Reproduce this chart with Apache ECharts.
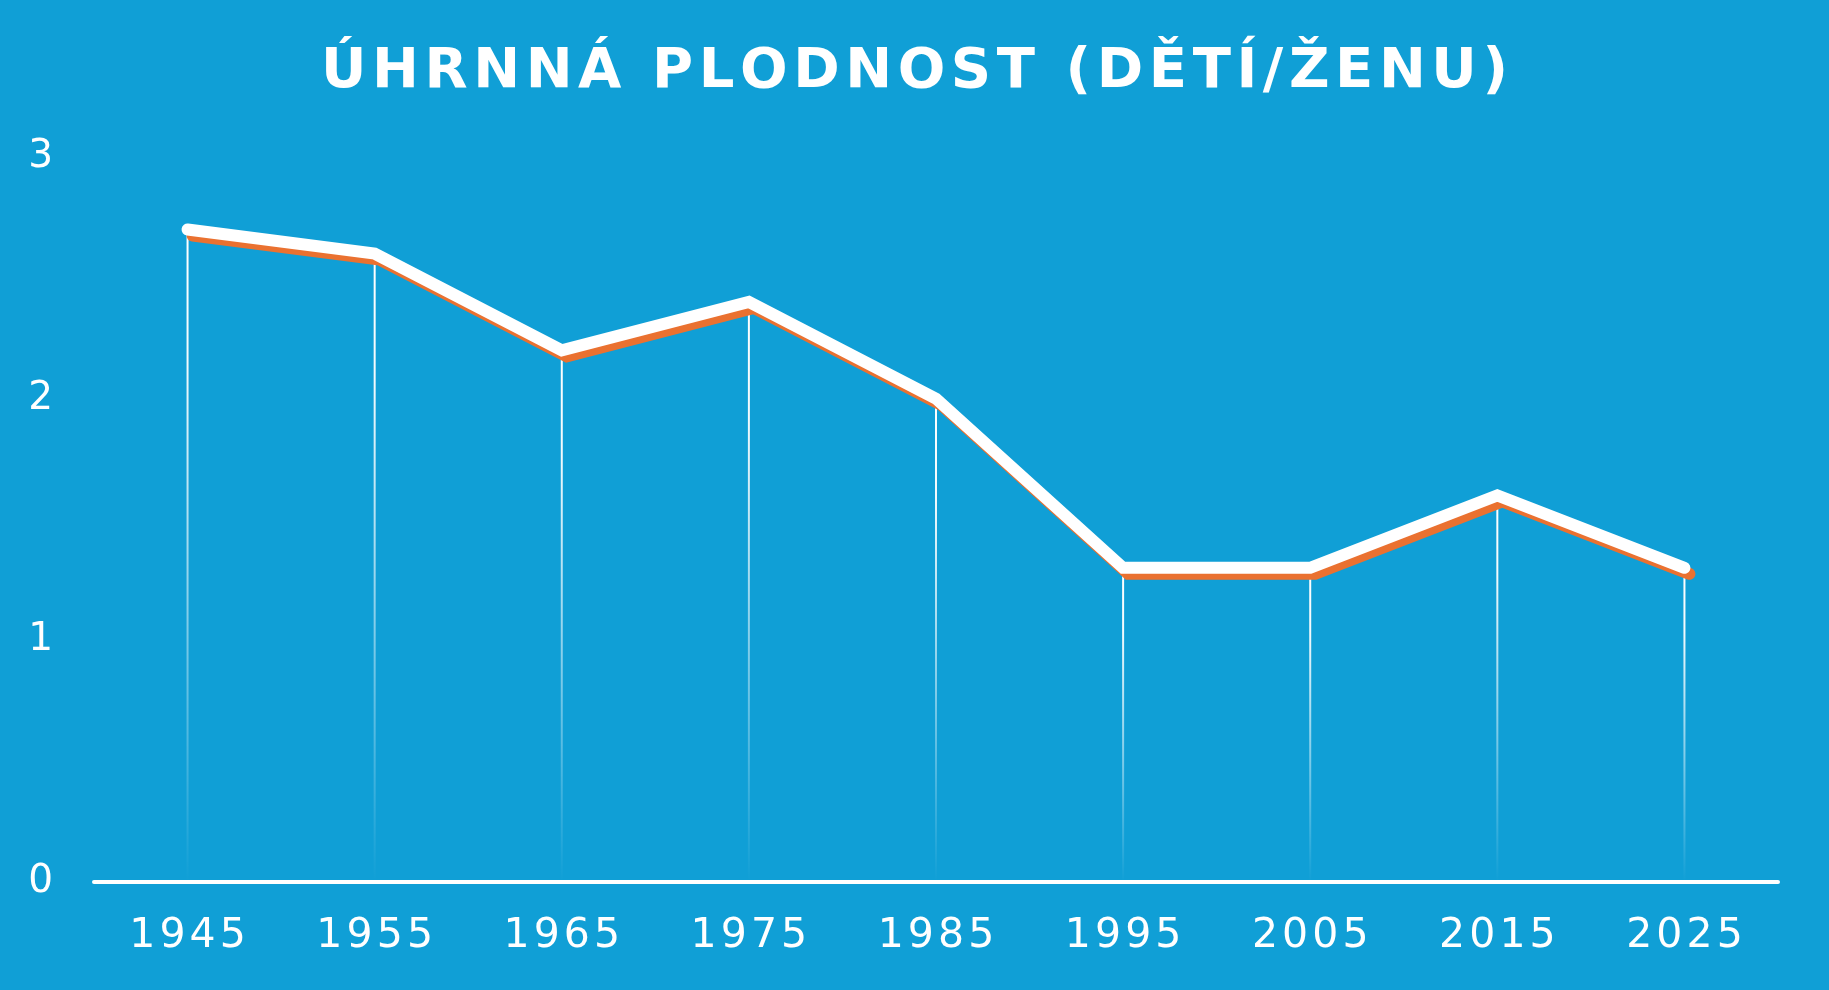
<!DOCTYPE html>
<html>
<head>
<meta charset="utf-8">
<title>Úhrnná plodnost</title>
<script src="https://cdn.jsdelivr.net/npm/echarts@6/dist/echarts.min.js"></script>
<style>
  html, body { margin: 0; padding: 0; background: #109fd6; }
  #chart { width: 1829px; height: 990px; }
</style>
</head>
<body>
<div id="chart"></div>
<script>
const titleText = 'ÚHRNNÁ PLODNOST (DĚTÍ/ŽENU)';
const years = ['1945', '1955', '1965', '1975', '1985', '1995', '2005', '2015', '2025'];
const fertility = [2.70, 2.60, 2.20, 2.40, 2.00, 1.30, 1.30, 1.60, 1.30];
const yTicks = [0, 1, 2, 3];

// no letterSpacing in canvas text here, so pad with hair spaces
const spaced = s => s.split('').join('\u200A');

const chart = echarts.init(document.getElementById('chart'));

chart.setOption({
    backgroundColor: '#109fd6',
    animation: false,
    title: {
        text: spaced(titleText),
        left: 'center',
        top: 39,
        textStyle: {
            color: '#ffffff',
            fontFamily: 'DejaVu Sans',
            fontWeight: 'bold',
            fontSize: 56
        }
    },
    grid: { left: 94, right: 51, top: 157, bottom: 108, containLabel: false },
    xAxis: {
        type: 'category',
        data: years,
        boundaryGap: true,
        axisLine: { show: true, lineStyle: { color: '#ffffff', width: 4 } },
        axisTick: { show: false },
        splitLine: { show: false },
        axisLabel: {
            color: '#ffffff',
            fontFamily: 'DejaVu Sans',
            fontSize: 41,
            margin: 34,
            formatter: v => spaced(v)
        }
    },
    yAxis: {
        type: 'value',
        min: yTicks[0],
        max: yTicks[yTicks.length - 1],
        interval: 1,
        axisLine: { show: false },
        axisTick: { show: false },
        splitLine: { show: false },
        axisLabel: {
            color: '#ffffff',
            fontFamily: 'DejaVu Sans',
            fontSize: 39,
            margin: 41
        }
    },
    series: [
        {
            // drop lines from each point down to the axis
            type: 'bar',
            data: fertility,
            barWidth: 2,
            z: 1,
            silent: true,
            itemStyle: {
                color: new echarts.graphic.LinearGradient(0, 0, 0, 1, [
                    { offset: 0, color: 'rgba(255,255,255,1)' },
                    { offset: 0.2, color: 'rgba(255,255,255,0.95)' },
                    { offset: 1, color: 'rgba(255,255,255,0)' }
                ])
            }
        },
        {
            type: 'line',
            data: fertility,
            z: 3,
            symbol: 'none',
            lineStyle: {
                color: '#ffffff',
                width: 12,
                cap: 'round',
                join: 'miter',
                shadowColor: '#ea7130',
                shadowBlur: 0,
                shadowOffsetX: 5,
                shadowOffsetY: 6
            }
        }
    ]
});
</script>
</body>
</html>
